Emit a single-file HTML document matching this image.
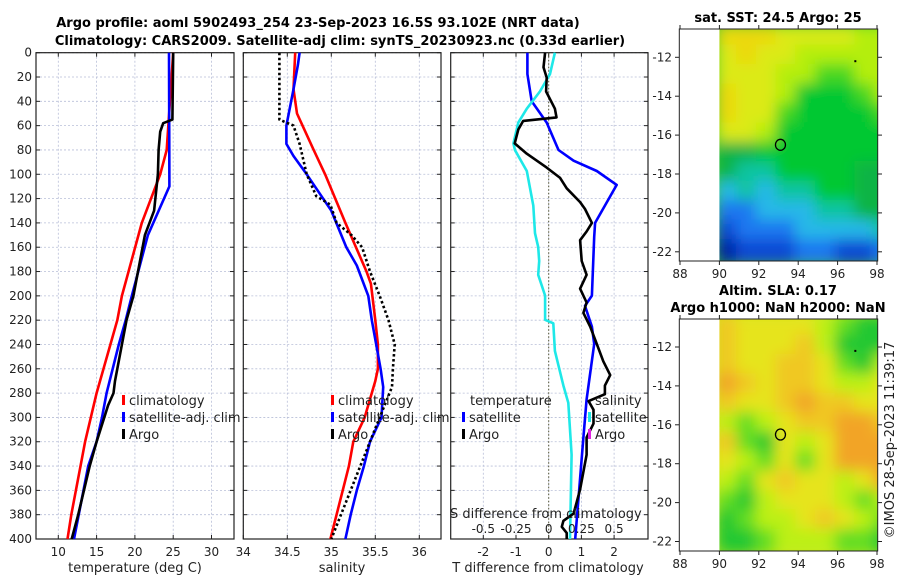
<!DOCTYPE html>
<html><head><meta charset="utf-8">
<style>
body{margin:0;background:#fff;}
svg{display:block;font-family:"DejaVu Sans","Liberation Sans",sans-serif;}
.tk{font-size:12px;fill:#222;}
.ttl{font-size:13px;font-weight:bold;fill:#000;}
.lab{font-size:13px;fill:#222;}
.grid{stroke:#b8bfd8;stroke-width:0.8;stroke-dasharray:2,2;}
</style></head>
<body>
<svg id="chart" width="900" height="580" viewBox="0 0 900 580">
<defs>
<filter id="blur" x="-10%" y="-10%" width="120%" height="120%"><feGaussianBlur stdDeviation="7"/></filter>
<clipPath id="clip1"><rect x="719.4" y="29" width="158.3" height="232"/></clipPath>
<clipPath id="clip2"><rect x="719.4" y="319" width="158.3" height="232"/></clipPath>
</defs>
<text class="ttl" x="318" y="27" text-anchor="middle">Argo profile: aoml 5902493_254 23-Sep-2023 16.5S 93.102E (NRT data)</text>
<text class="ttl" x="340" y="45" text-anchor="middle">Climatology: CARS2009. Satellite-adj clim: synTS_20230923.nc (0.33d earlier)</text>
<g id="g1"></g>
<g id="g2"></g>
<g id="g3"></g>
<g id="m1"></g>
<g id="m2"></g>
<text class="ttl" x="778" y="22" text-anchor="middle">sat. SST: 24.5 Argo: 25</text>
<text class="ttl" x="778" y="295" text-anchor="middle">Altim. SLA: 0.17</text>
<text class="ttl" x="778" y="312" text-anchor="middle">Argo h1000: NaN h2000: NaN</text>
<text class="lab" x="0" y="0" transform="translate(894,440) rotate(-90)" text-anchor="middle">©IMOS 28-Sep-2023 11:39:17</text>
</svg>
<script>
// ---- data ----
const depthTicks=[0,20,40,60,80,100,120,140,160,180,200,220,240,260,280,300,320,340,360,380,400];
const tempTicks=[10,15,20,25,30];
const salTicks=[34,34.5,35,35.5,36];
const salTickLabels=["34","34.5","35","35.5","36"];
const diffTicks=[-2,-1,0,1,2];
const sdiffTickLabels=["-0.5","-0.25","0","0.25","0.5"];

const tClimDepth=[0,80,100,140,200,220,240,260,280,320,340,360,380,400];
const tClim=[25.0,24.15,23.3,20.9,18.3,17.7,16.8,15.9,15.0,13.5,12.9,12.3,11.7,11.2];
const tSatDepth=[0,110,150,200,220,240,260,280,300,320,340,400];
const tSat=[24.45,24.5,21.7,19.6,18.8,17.9,17.1,16.3,15.7,15.0,13.9,12.05];
const tArgoDepth=[0,55,58,65,80,100,130,150,170,200,220,270,280,290,320,340,380,400];
const tArgo=[25.0,24.9,23.7,23.3,23.1,23.0,22.5,21.3,20.7,19.8,18.9,17.4,17.2,16.5,15.0,14.1,12.6,11.75];

const sClimDepth=[0,30,50,80,100,140,180,190,220,240,260,270,300,320,340,400];
const sClim=[34.59,34.57,34.61,34.80,34.93,35.16,35.40,35.45,35.50,35.53,35.53,35.50,35.38,35.25,35.2,34.99];
const sSatDepth=[0,10,30,60,75,85,100,130,160,175,200,220,260,275,300,320,340,360,380,400];
const sSat=[34.64,34.62,34.57,34.49,34.49,34.57,34.72,35.0,35.17,35.29,35.42,35.46,35.56,35.59,35.57,35.44,35.37,35.29,35.22,35.16];
const sArgoDepth=[0,55,60,75,100,118,125,140,150,160,180,200,220,240,260,275,300,320,340,400];
const sArgo=[34.41,34.41,34.57,34.64,34.72,34.83,34.99,35.06,35.23,35.35,35.44,35.55,35.65,35.72,35.70,35.69,35.55,35.44,35.33,35.0];

const dSatDepth=[0,17.6,40,57.5,80,88.8,97.3,108.7,140,151.4,199.8,208.3,225.4,239.6,285.2,316.5,400];
const dSat=[-0.65,-0.65,-0.52,-0.06,0.30,0.76,1.47,2.08,1.42,1.39,1.32,1.11,1.32,1.39,1.16,1.06,0.81];
const dSalDepth=[0,17.6,31.9,46.1,57.5,74.6,80.2,97.3,125.8,148.5,159.9,171.3,182.7,199.8,219.7,222.6,245.3,273.8,288,330.7,400];
const dSal=[0.19,0.04,-0.27,-0.67,-0.93,-1.08,-1.03,-0.67,-0.47,-0.42,-0.32,-0.29,-0.32,-0.11,-0.11,0.14,0.19,0.45,0.60,0.70,0.65];
const dArgoDepth=[0,12,20.5,31.9,46.1,53.2,56.1,63.2,74.6,83.1,94.5,103,111.5,122.9,128.6,140,147.1,154.2,171.3,182.7,194.1,205.5,214,225.4,239.6,253.8,265.2,273.8,280.9,286.6,293.7,305.1,316.5,330.7,359.2,379.1,385,390,395,400];
const dArgo=[-0.11,-0.16,-0.06,-0.08,0.19,0.24,-0.78,-0.93,-1.04,-0.67,-0.06,0.35,0.55,0.96,1.11,1.32,1.16,0.96,1.01,1.16,0.96,1.16,1.06,1.27,1.47,1.67,1.88,1.72,1.72,1.22,1.37,1.37,1.16,1.16,0.96,0.76,0.45,0.40,0.55,0.55];

const lonTicks=[88,90,92,94,96,98];
const latTicks=[-12,-14,-16,-18,-20,-22];
const floatLon=93.1, floatLat=-16.5;
const sstRows=["YYYyyyyLL","yYyyLLLLL","yyyLLGGLL","YyyLgggGL","YyyGggggG","yyLgggggg","DDggggggg","DTTggggDD","CTCTTggDD","BBCCCTTDD","NBBBCCCCT","KNNNBBNNB"];
const slaRows=["oYYYYLGgg","oYYYoLggg","oYYooYGgL","OoYooYLLY","oYYoOooYY","LGLYooOOo","oGgYLYOOO","YLGYGYOOO","LGYoYYLYO","GgLYYYLGL","gGLLYoYLG","ggGLLLGGg"];

// ---- helpers ----
const NS="http://www.w3.org/2000/svg";
function mk(tag,attrs,parent){const e=document.createElementNS(NS,tag);for(const k in attrs)e.setAttribute(k,attrs[k]);parent.appendChild(e);return e;}
const Y0=52.7,Y1=539;
const yD=d=>Y0+d*(Y1-Y0)/400;
const xT=t=>58.3+(t-10)*7.66;
const xS=s=>243.3+(s-34)*88;
const xD=t=>548.7+t*32.7;

function panel(g,x0,x1,xs,ticks,labels,showY){
  ticks.forEach(v=>{const l=mk('line',{x1:xs(v),x2:xs(v),y1:Y0,y2:Y1,class:'grid'},g);
    });
  depthTicks.forEach(d=>{const l=mk('line',{x1:x0,x2:x1,y1:yD(d),y2:yD(d),class:'grid'},g);
    
    mk('line',{x1:x0,x2:x0+4,y1:yD(d),y2:yD(d),stroke:'#222'},g);
    mk('line',{x1:x1,x2:x1-4,y1:yD(d),y2:yD(d),stroke:'#222'},g);
    if(showY){const t=mk('text',{x:x0-4,y:yD(d)+4,'text-anchor':'end',class:'tk'},g);t.textContent=d;
      }
  });
  ticks.forEach((v,i)=>{mk('line',{x1:xs(v),x2:xs(v),y1:Y1,y2:Y1-4,stroke:'#222'},g);
    mk('line',{x1:xs(v),x2:xs(v),y1:Y0,y2:Y0+4,stroke:'#222'},g);
    const t=mk('text',{x:xs(v),y:556,'text-anchor':'middle',class:'tk'},g);t.textContent=labels[i];
    });
  const r=mk('rect',{x:x0,y:Y0,width:x1-x0,height:Y1-Y0,fill:'none',stroke:'#222','stroke-width':1.2},g);
  
}
function series(g,xs,vals,depths,color,name,dash){
  const pts=vals.map((v,i)=>xs(v).toFixed(1)+','+yD(depths[i]).toFixed(1)).join(' ');
  const p=mk('polyline',{points:pts,fill:'none',stroke:color,'stroke-width':2.6,'stroke-linejoin':'round'},g);
  if(dash)p.setAttribute('stroke-dasharray',dash);
  
}
function txt(g,x,y,s,cls,anchor,name){const t=mk('text',{x:x,y:y,class:cls,'text-anchor':anchor||'start'},g);t.textContent=s;
  return t;}
function legendItem(g,x,y,color,label,name){
  const r=mk('rect',{x:x,y:y-9,width:3,height:10,fill:color},g);
  
  if(label)txt(g,x+7,y+1,label,'lab','start',name);
}

// panel 1
const g1=document.getElementById('g1');
panel(g1,36,234,xT,tempTicks,tempTicks.map(String),true);
series(g1,xT,tClim,tClimDepth,'#f00','temp-climatology-line');
series(g1,xT,tSat,tSatDepth,'#00f','temp-satellite-line');
series(g1,xT,tArgo,tArgoDepth,'#000','temp-argo-line');
legendItem(g1,122,404,'#f00','climatology','legend-climatology');
legendItem(g1,122,421,'#00f','satellite-adj. clim','legend-satellite');
legendItem(g1,122,438,'#000','Argo','legend-argo');
txt(g1,135,572,'temperature (deg C)','lab','middle','x-axis-title-temperature');

// panel 2
const g2=document.getElementById('g2');
panel(g2,243.3,441,xS,salTicks,salTickLabels,false);
series(g2,xS,sClim,sClimDepth,'#f00','sal-climatology-line');
series(g2,xS,sSat,sSatDepth,'#00f','sal-satellite-line');
series(g2,xS,sArgo,sArgoDepth,'#000','sal-argo-line','2.5,2.5');
legendItem(g2,331,404,'#f00','climatology','legend-climatology');
legendItem(g2,331,421,'#00f','satellite-adj. clim','legend-satellite');
legendItem(g2,331,438,'#000','Argo','legend-argo');
txt(g2,342,572,'salinity','lab','middle','x-axis-title-salinity');

// panel 3
const g3=document.getElementById('g3');
panel(g3,450.7,648,xD,diffTicks,diffTicks.map(String),false);
const z=mk('line',{x1:xD(0),x2:xD(0),y1:Y0,y2:Y1,stroke:'#555533','stroke-width':1,'stroke-dasharray':'1.5,2'},g3);

series(g3,xD,dSat,dSatDepth,'#00f','tdiff-satellite-line');
series(g3,xD,dSal,dSalDepth,'#1ee8e8','sdiff-satellite-line');
series(g3,xD,dArgo,dArgoDepth,'#000','tdiff-argo-line');
txt(g3,470,405,'temperature','lab','start','legend-temperature-header');
legendItem(g3,462,421,'#00f','satellite','legend-t-satellite');
legendItem(g3,462,438,'#000','Argo','legend-t-argo');
txt(g3,595,405,'salinity','lab','start','legend-salinity-header');
legendItem(g3,588,421,'#1ee8e8','satellite','legend-s-satellite');
legendItem(g3,588,438,'#e020e0','Argo','legend-s-argo');
txt(g3,450,518,'S difference from climatology','lab','start','s-axis-title');
diffTicks.forEach((v,i)=>txt(g3,xD(v),533,sdiffTickLabels[i],'tk','middle','s-tick-label'));
txt(g3,548,572,'T difference from climatology','lab','middle','x-axis-title-tdiff');

// maps
const sstCol={Y:'#ecd810',y:'#dcea14',L:'#b4ee10',G:'#48d820',g:'#00c830',D:'#10b444',T:'#10c4a0',C:'#28b8e8',B:'#1e78f0',N:'#0a4ad4',K:'#0424a4'};
const slaCol={O:'#f2a428',o:'#f0c820',Y:'#e6e41c',L:'#bcf014',G:'#64de20',g:'#22c832'};
function mapPanel(g,top,bot,lat12y,rows,cols,clip,bg){
  const xL=lon=>680+(lon-88)*19.7;
  const perDeg=19.45;
  const yy=lat=>lat12y+(-12-lat)*perDeg;
  const cg=mk('g',{'clip-path':'url(#'+clip+')'},g);
  mk('rect',{x:xL(90),y:top,width:158.3,height:bot-top,fill:bg},cg);
  const bg2=mk('g',{filter:'url(#blur)'},cg);
  rows.forEach((row,r)=>{for(let c=0;c<row.length;c++){
    const cell=mk('rect',{x:xL(90+c)-3,y:yy(-10.5-r)-3,width:19.7+6,height:perDeg+6,fill:cols[row[c]]},bg2);
    }});
  const fr=mk('rect',{x:679.3,y:top,width:198.4,height:bot-top,fill:'none',stroke:'#222','stroke-width':1},g);
  
  lonTicks.forEach(v=>{mk('line',{x1:xL(v),x2:xL(v),y1:bot,y2:bot+4,stroke:'#222'},g);
    mk('line',{x1:xL(v),x2:xL(v),y1:top,y2:top-4,stroke:'#222'},g);
    txt(g,xL(v),bot+17,String(v),'tk','middle','lon-tick-label');});
  latTicks.forEach(v=>{mk('line',{x1:679.3,x2:675,y1:yy(v),y2:yy(v),stroke:'#222'},g);
    mk('line',{x1:877.7,x2:882,y1:yy(v),y2:yy(v),stroke:'#222'},g);
    txt(g,672,yy(v)+4,String(v),'tk','end','lat-tick-label');});
  const m=mk('ellipse',{cx:xL(floatLon),cy:yy(floatLat),rx:5,ry:5.5,fill:'none',stroke:'#000','stroke-width':1.3},g);
  
  mk('rect',{x:xL(96.9)-1,y:yy(-12.2)-1,width:2,height:2,fill:'#000'},g);
}
mapPanel(document.getElementById('m1'),29,261,57.3,sstRows,sstCol,'clip1','#40c830');
mapPanel(document.getElementById('m2'),319,551,347,slaRows,slaCol,'clip2','#d0e420');
</script>
</body></html>
